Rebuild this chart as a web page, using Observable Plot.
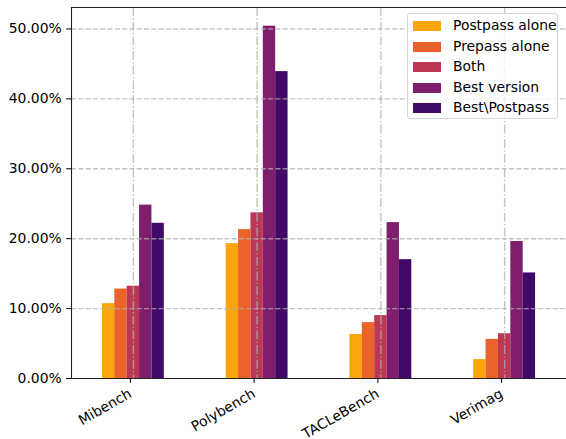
<!DOCTYPE html>
<html>
<head>
<meta charset="utf-8">
<script src="https://cdn.jsdelivr.net/npm/d3@7"></script>
<script src="https://cdn.jsdelivr.net/npm/@observablehq/plot@0.6"></script>
<style>
  html, body { margin: 0; padding: 0; background: #fff; overflow: hidden; }
  #wrap { position: relative; width: 566px; height: 439px; font-family: "DejaVu Sans", sans-serif; }
  #legend { position: absolute; left: 407px; top: 13px; width: 151px; height: 106px;
    border: 1px solid #d6d6d6; border-radius: 3px; background: rgba(255,255,255,0.8); box-sizing: border-box; }
  .row { position: absolute; left: 0; height: 16px; font-size: 13.9px; color: #000; white-space: nowrap; }
  .sw { position: absolute; left: 5px; top: 3px; width: 28px; height: 10px; }
  .lab { position: absolute; left: 45px; top: -1px; line-height: 16px; }
</style>
</head>
<body>
<div id="wrap"><div id="legend"></div></div>
<script>
const benchmarks = ["Mibench", "Polybench", "TACLeBench", "Verimag"];
const seriesNames = ["Postpass alone", "Prepass alone", "Both", "Best version", "Best\\Postpass"];
const postpassAlone = [10.7, 19.3, 6.3, 2.7];
const prepassAlone  = [12.8, 21.3, 8.0, 5.6];
const both          = [13.2, 23.7, 9.0, 6.4];
const bestVersion   = [24.8, 50.4, 22.3, 19.6];
const bestNoPost    = [22.2, 43.9, 17.0, 15.1];
const yTicks = [0, 10, 20, 30, 40, 50];

const seriesValues = [postpassAlone, prepassAlone, both, bestVersion, bestNoPost];
const colors = [0.8, 0.65, 0.5, 0.35, 0.2].map(t => d3.interpolateInferno(t));

// pandas-style grouped bars: group width 0.5, each bar 0.1 wide, centred on the category index
const groupWidth = 0.5;
const barWidth = groupWidth / seriesNames.length;
const table = [];
benchmarks.forEach((b, i) => {
  seriesNames.forEach((s, j) => {
    const x1 = i - groupWidth / 2 + j * barWidth;
    table.push({bench: b, series: s, value: seriesValues[j][i], x1, x2: x1 + barWidth});
  });
});
const catIdx = benchmarks.map((b, i) => i);
const yTop = 53.07;

const chart = Plot.plot({
  width: 566,
  height: 439,
  marginLeft: 71,
  marginRight: 0,
  marginTop: 7,
  marginBottom: 61,
  style: {fontFamily: "DejaVu Sans", fontSize: "13.9px", color: "#000", background: "transparent"},
  x: {domain: [-0.5, benchmarks.length - 0.5], label: null, axis: null},
  y: {domain: [0, yTop], ticks: yTicks, tickFormat: d => d.toFixed(2) + "%", tickSize: 4.9, tickPadding: 4.9, label: null},
  color: {domain: seriesNames, range: colors},
  marks: [
    Plot.rect(table, {x1: "x1", x2: "x2", y1: 0, y2: "value", fill: "series"}),
    Plot.ruleY(yTicks.slice(1), {stroke: "#b0b0b0", strokeOpacity: 0.75, strokeWidth: 1.4, strokeDasharray: "5.1,2.2"}),
    Plot.ruleX(catIdx, {stroke: "#b0b0b0", strokeOpacity: 0.75, strokeWidth: 1.4, strokeDasharray: "8.9,2.2,1.4,2.2"}),
    Plot.ruleY([0, yTop], {stroke: "#222", strokeWidth: 1.1}),
    Plot.frame({anchor: "left", stroke: "#222", strokeWidth: 1.1}),
    Plot.axisX({ticks: catIdx, tickFormat: i => benchmarks[i], tickSize: 4.9, tickPadding: 9, tickRotate: -30, dx: -3, label: null})
  ]
});
document.getElementById("wrap").prepend(chart);

const legend = document.getElementById("legend");
seriesNames.forEach((s, j) => {
  const row = document.createElement("div");
  row.className = "row";
  row.style.top = (4 + j * 20.5) + "px";
  const sw = document.createElement("div");
  sw.className = "sw";
  sw.style.background = colors[j];
  const lab = document.createElement("div");
  lab.className = "lab";
  lab.textContent = s;
  row.appendChild(sw);
  row.appendChild(lab);
  legend.appendChild(row);
});
</script>
</body>
</html>
